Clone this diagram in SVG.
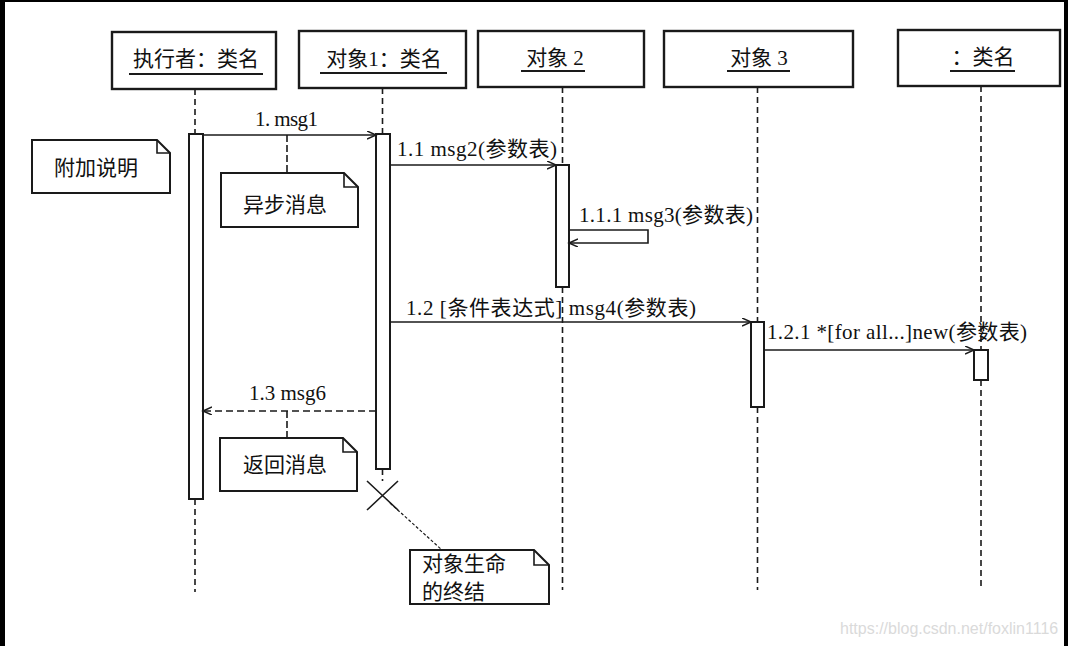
<svg xmlns="http://www.w3.org/2000/svg" width="1068" height="646" viewBox="0 0 1068 646">
<style>
.bx{fill:#fff;stroke:#1a1a1a;stroke-width:2.4}
.act{fill:#fff;stroke:#1a1a1a;stroke-width:2}
.ll{fill:none;stroke:#1a1a1a;stroke-width:1.6;stroke-dasharray:6 4}
.msg{fill:none;stroke:#1a1a1a;stroke-width:1.6}
.ret{fill:none;stroke:#1a1a1a;stroke-width:1.6;stroke-dasharray:7 4}
.nl{fill:none;stroke:#1a1a1a;stroke-width:1.6;stroke-dasharray:7 3}
.note{fill:#fff;stroke:#1a1a1a;stroke-width:2}
.fold{fill:none;stroke:#1a1a1a;stroke-width:1.6}
.ul{stroke:#1a1a1a;stroke-width:1.8}
.t{font-family:"Liberation Serif","Noto Sans CJK SC",serif;font-size:21px;fill:#111}
.c{text-anchor:middle}
.wm{font-family:"Liberation Sans",Arial,sans-serif;font-size:16px;fill:#dadada}
</style>
<defs>
<marker id="arr" markerUnits="userSpaceOnUse" markerWidth="12" markerHeight="10" refX="9" refY="4" orient="auto">
<path d="M0,0 L9,4 L0,8" fill="none" stroke="#1a1a1a" stroke-width="1.5" stroke-dasharray="none"/>
</marker>
</defs>
<rect width="1068" height="646" fill="#fff"/>
<g id="frame" fill="#000">
<rect x="0" y="0" width="5" height="646"/>
<rect x="0" y="0" width="1068" height="2"/>
<rect x="1064" y="0" width="4" height="646"/>
</g>
<g id="lifelines">
<path class="ll" d="M195,89V134M195,499V592"/>
<path class="ll" d="M382.5,88V134M382.5,469V481"/>
<path class="ll" d="M562.5,87V165M562.5,287V590"/>
<path class="ll" d="M757.5,87V322M757.5,407V590"/>
<path class="ll" d="M981,86V350M981,380V590"/>
</g>
<g id="actor">
<rect class="bx" x="112" y="32" width="164" height="57"/>
<text class="t c" x="196" y="66">执行者：类名</text>
<line class="ul" x1="129" y1="74" x2="263" y2="74"/>
<rect class="act" x="189" y="134" width="14" height="365"/>
</g>
<g id="obj1">
<rect class="bx" x="299" y="31" width="167" height="57"/>
<text class="t c" x="384" y="66">对象1：类名</text>
<line class="ul" x1="320" y1="73" x2="447" y2="73"/>
<rect class="act" x="376" y="134" width="14" height="335"/>
</g>
<g id="obj2">
<rect class="bx" x="478" y="31" width="166" height="56"/>
<text class="t c" x="555" y="65">对象 2</text>
<line class="ul" x1="521" y1="71" x2="585" y2="71"/>
<rect class="act" x="556" y="165" width="13" height="122"/>
</g>
<g id="obj3">
<rect class="bx" x="664" y="31" width="189" height="56"/>
<text class="t c" x="759" y="65">对象 3</text>
<line class="ul" x1="727" y1="71" x2="790" y2="71"/>
<rect class="act" x="751" y="322" width="13" height="85"/>
</g>
<g id="cls">
<rect class="bx" x="898" y="30" width="162" height="56"/>
<text class="t c" x="983" y="64">：类名</text>
<line class="ul" x1="950" y1="71" x2="1015" y2="71"/>
<rect class="act" x="974" y="350" width="14" height="30"/>
</g>
<g id="note-fujia">
<path class="note" d="M32,140H157L170,153V193H32Z"/>
<path class="fold" d="M157,140V153H170"/>
<text class="t" x="54" y="175">附加说明</text>
</g>
<g id="note-yibu">
<path class="note" d="M221,173H344L358,187V227H221Z"/>
<path class="fold" d="M344,173V187H358"/>
<text class="t" x="243" y="212">异步消息</text>
</g>
<g id="note-fanhui">
<path class="note" d="M220,438H343L357,452V491H220Z"/>
<path class="fold" d="M343,438V452H357"/>
<text class="t" x="243" y="472">返回消息</text>
</g>
<g id="note-end">
<path class="note" d="M410,550H534L549,565V604H410Z"/>
<path class="fold" d="M534,550V565H549"/>
<text class="t" x="422" y="571">对象生命</text>
<text class="t" x="422" y="599">的终结</text>
</g>
<g id="destroy">
<path d="M367,481L398,510M398,481L367,510" fill="none" stroke="#1a1a1a" stroke-width="1.6"/>
</g>
<g id="connectors">
<line class="msg" x1="203" y1="135" x2="376" y2="135" marker-end="url(#arr)"/>
<line class="msg" x1="390" y1="165" x2="556" y2="165" marker-end="url(#arr)"/>
<polyline class="msg" points="569,230 648,230 648,243 569,243" marker-end="url(#arr)"/>
<line class="msg" x1="390" y1="322" x2="751" y2="322" marker-end="url(#arr)"/>
<line class="msg" x1="764" y1="350" x2="974" y2="350" marker-end="url(#arr)"/>
<line class="ret" x1="376" y1="411" x2="203" y2="411" marker-end="url(#arr)"/>
<line class="nl" x1="287" y1="135" x2="287" y2="173"/>
<line class="nl" x1="287" y1="411" x2="287" y2="438"/>
<line x1="390" y1="503" x2="442" y2="550" stroke="#1a1a1a" stroke-width="1.2" stroke-dasharray="3 2"/>
</g>
<g id="labels">
<text class="t" x="255" y="126" textLength="63" lengthAdjust="spacing">1. msg1</text>
<text class="t" x="397" y="156" textLength="160" lengthAdjust="spacing">1.1 msg2(参数表)</text>
<text class="t" x="579" y="222" textLength="174" lengthAdjust="spacing">1.1.1 msg3(参数表)</text>
<text class="t" x="406" y="315" textLength="290" lengthAdjust="spacing">1.2 [条件表达式] msg4(参数表)</text>
<text class="t" x="767" y="339" textLength="260" lengthAdjust="spacing">1.2.1 *[for all...]new(参数表)</text>
<text class="t" x="249" y="400" textLength="77" lengthAdjust="spacing">1.3 msg6</text>
</g>
<text class="wm" x="840" y="634">https://blog.csdn.net/foxlin1116</text>
</svg>
